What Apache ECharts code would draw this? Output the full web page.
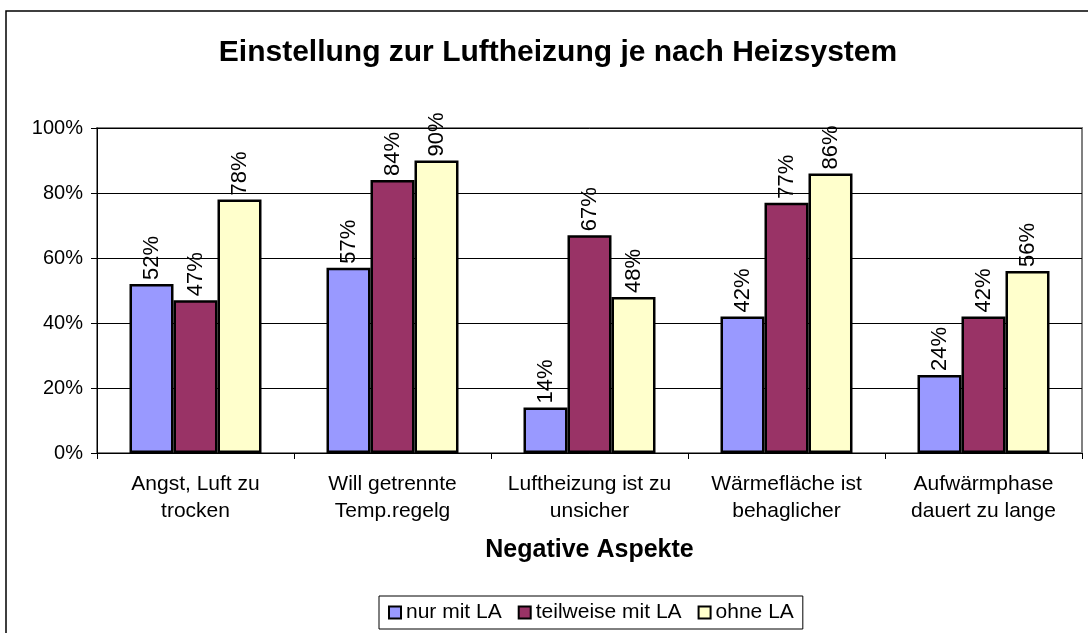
<!DOCTYPE html>
<html>
<head>
<meta charset="utf-8">
<script src="https://cdn.jsdelivr.net/npm/echarts@6/dist/echarts.min.js"></script>
<style>
  html, body { margin: 0; padding: 0; background: #fff; }
  #chart { width: 1088px; height: 633px; }
</style>
</head>
<body>
<div id="chart"></div>
<script>
const categories = [
  'Angst, Luft zu\ntrocken',
  'Will getrennte\nTemp.regelg',
  'Luftheizung ist zu\nunsicher',
  'Wärmefläche ist\nbehaglicher',
  'Aufwärmphase\ndauert zu lange'
]
const nurMitLA = [52, 57, 14, 42, 24]
const teilweiseMitLA = [47, 84, 67, 77, 42]
const ohneLA = [78, 90, 48, 86, 56]

const font = '"Liberation Sans", Arial, sans-serif'

const chart = echarts.init(document.getElementById('chart'))

function bar(name, data, color) {
  return {
    name,
    type: 'bar',
    data,
    barGap: '0%',
    barCategoryGap: '33%',
    itemStyle: { color, borderColor: '#000', borderWidth: 2.5 },
    label: {
      show: true,
      position: 'top',
      rotate: 90,
      align: 'left',
      verticalAlign: 'middle',
      distance: 4,
      formatter: '{c}%',
      fontFamily: font,
      fontSize: 22,
      color: '#000'
    }
  }
}

chart.setOption({
  animation: false,
  graphic: [
    {
      type: 'rect',
      shape: { x: 6, y: 11, width: 1120, height: 700 },
      style: { fill: 'none', stroke: '#000', lineWidth: 1.5 },
      z: -1
    },
    {
      type: 'text',
      x: 558,
      y: 38,
      style: {
        text: 'Einstellung zur Luftheizung je nach Heizsystem',
        fontFamily: font,
        fontSize: 30,
        fontWeight: 'bold',
        fill: '#000',
        textAlign: 'center'
      }
    }
  ],
  grid: {
    left: 97,
    right: 6,
    top: 128,
    bottom: 180,
    show: true,
    borderColor: '#808080',
    borderWidth: 2
  },
  legend: {
    left: 379,
    top: 596,
    padding: [6, 9],
    borderColor: '#000',
    borderWidth: 1,
    itemWidth: 12,
    itemHeight: 12,
    itemGap: 16,
    icon: 'rect',
    textStyle: { fontFamily: font, fontSize: 21, color: '#000' },
    data: ['nur mit LA', 'teilweise mit LA', 'ohne LA']
  },
  xAxis: {
    type: 'category',
    data: categories,
    name: 'Negative Aspekte',
    nameLocation: 'middle',
    nameGap: 85,
    nameTextStyle: { fontFamily: font, fontSize: 25, fontWeight: 'bold', color: '#000' },
    axisLine: { lineStyle: { color: '#000', width: 1 } },
    axisTick: { show: true, length: 6, lineStyle: { color: '#000' } },
    axisLabel: { fontFamily: font, fontSize: 21, lineHeight: 27, color: '#000', margin: 18, interval: 0 }
  },
  yAxis: {
    type: 'value',
    min: 0,
    max: 100,
    interval: 20,
    axisLine: { show: true, lineStyle: { color: '#000', width: 1 } },
    axisTick: { show: true, length: 6, lineStyle: { color: '#000' } },
    axisLabel: { fontFamily: font, fontSize: 20, color: '#000', margin: 14, formatter: '{value}%' },
    splitLine: { lineStyle: { color: '#000', width: 1 } }
  },
  series: [
    bar('nur mit LA', nurMitLA, '#9999FF'),
    bar('teilweise mit LA', teilweiseMitLA, '#993366'),
    bar('ohne LA', ohneLA, '#FFFFCC')
  ]
})
</script>
</body>
</html>
